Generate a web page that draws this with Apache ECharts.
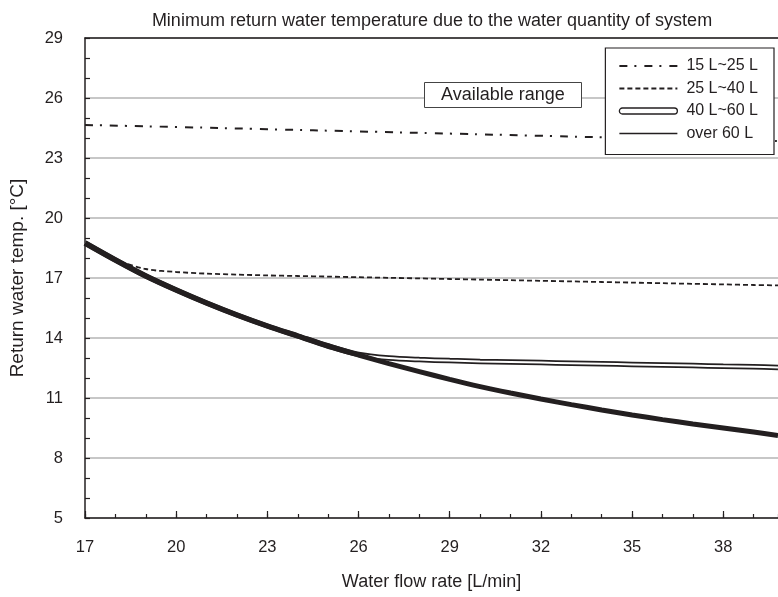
<!DOCTYPE html>
<html>
<head>
<meta charset="utf-8">
<script src="https://cdn.jsdelivr.net/npm/echarts@6/dist/echarts.min.js"></script>
<style>
html,body{margin:0;padding:0;background:#fff;}
#chart{width:778px;height:597px;}
</style>
</head>
<body>
<div id="chart"></div>
<script>
// ---- data ----
const flow = [17, 18, 19, 20, 21, 22, 23, 24, 25, 26, 27, 28, 29, 30, 31, 32, 33, 34, 35, 36, 37, 38, 39, 39.8];
const over60 = [18.75, 17.9, 17.1, 16.4, 15.75, 15.15, 14.6, 14.1, 13.6, 13.15, 12.72, 12.32, 11.93, 11.57, 11.25, 10.95, 10.67, 10.4, 10.15, 9.92, 9.7, 9.5, 9.3, 9.13];
const l40to60 = [18.75, 17.9, 17.1, 16.4, 15.75, 15.15, 14.6, 14.1, 13.6, 13.18, 13.0, 12.92, 12.87, 12.83, 12.8, 12.77, 12.74, 12.71, 12.68, 12.65, 12.62, 12.59, 12.56, 12.53];
const l25to40 = [18.75, 17.92, 17.45, 17.3, 17.22, 17.17, 17.13, 17.1, 17.07, 17.04, 17.01, 16.98, 16.95, 16.92, 16.89, 16.86, 16.83, 16.8, 16.77, 16.74, 16.71, 16.68, 16.65, 16.63];
const flow15 = [17, 20, 23, 26, 29, 32, 35, 38, 39.8];
const l15to25 = [24.65, 24.55, 24.44, 24.33, 24.22, 24.11, 24.0, 23.9, 23.85];

const xTicks = [17, 20, 23, 26, 29, 32, 35, 38];
const yTicks = [5, 8, 11, 14, 17, 20, 23, 26, 29];
const seriesNames = ['15 L~25 L', '25 L~40 L', '40 L~60 L', 'over 60 L'];
const titleText = 'Minimum return water temperature due to the water quantity of system';
const xName = 'Water flow rate [L/min]';
const yName = 'Return water temp. [°C]';
const noteText = 'Available range';

const pairs = (xs, ys) => xs.map((x, i) => [x, ys[i]]);
const FONT = 'Liberation Sans, Arial, sans-serif';
const INK = '#231f20';
const NOSYM = {color: 'rgba(0,0,0,0)', borderWidth: 0};

const chart = echarts.init(document.getElementById('chart'), null, {renderer: 'canvas'});
const axisLineStyle = {color: INK, width: 1.5};

chart.setOption({
  animation: false,
  backgroundColor: '#fff',
  title: [
    {text: titleText, left: 432, top: 12, textAlign: 'center', padding: 0,
     textStyle: {fontFamily: FONT, fontSize: 18, fontWeight: 'normal', color: INK}},
    {text: noteText, left: 424, top: 82, padding: [4, 17], borderColor: '#444', borderWidth: 1,
     backgroundColor: '#fff',
     textStyle: {fontFamily: FONT, fontSize: 18, fontWeight: 'normal', color: INK}}
  ],
  legend: {
    orient: 'vertical', right: 4, top: 48,
    padding: [10, 16, 13, 13], itemGap: 6.5, itemWidth: 58, itemHeight: 6,
    borderColor: INK, borderWidth: 1.2, backgroundColor: '#fff',
    textStyle: {fontFamily: FONT, fontSize: 16, color: INK, padding: [0, 0, 0, 4]},
    data: [
      {name: seriesNames[0], itemStyle: NOSYM},
      {name: seriesNames[1], itemStyle: NOSYM},
      {name: seriesNames[2], icon: 'path://M3,0L55,0A3,3,0,0,1,55,6L3,6A3,3,0,0,1,3,0Z',
       itemStyle: {color: '#fff', borderColor: INK, borderWidth: 1.3}},
      {name: seriesNames[3], itemStyle: NOSYM, lineStyle: {width: 1.5}}
    ]
  },
  grid: {left: 85, right: 0, top: 38, bottom: 79, containLabel: false},
  xAxis: [
    {type: 'value', min: 17, max: 39.8, interval: 1, position: 'bottom',
     axisLine: {show: true, lineStyle: axisLineStyle},
     axisTick: {show: true, inside: true, length: 4, lineStyle: {color: INK, width: 1.2}},
     axisLabel: {show: false}, splitLine: {show: false}},
    {type: 'value', min: 17, max: 39.8, interval: 3, position: 'bottom',
     axisLine: {show: false},
     axisTick: {show: true, inside: true, length: 7, customValues: xTicks, lineStyle: {color: INK, width: 1.2}},
     axisLabel: {show: true, customValues: xTicks, margin: 21,
                 fontFamily: FONT, fontSize: 16.5, color: INK},
     splitLine: {show: false},
     name: xName, nameLocation: 'middle', nameGap: 55,
     nameTextStyle: {fontFamily: FONT, fontSize: 18, color: INK}},
    {type: 'value', min: 17, max: 39.8, position: 'top',
     axisLine: {show: true, lineStyle: axisLineStyle},
     axisTick: {show: false}, axisLabel: {show: false}, splitLine: {show: false}}
  ],
  yAxis: {
    type: 'value', min: 5, max: 29, interval: 3,
    axisLine: {show: true, lineStyle: axisLineStyle},
    axisTick: {show: true, inside: true, length: 5, lineStyle: {color: INK, width: 1.2}},
    minorTick: {show: true, splitNumber: 3, length: 5, lineStyle: {color: INK, width: 1.2}},
    axisLabel: {margin: 22, fontFamily: FONT, fontSize: 16.5, color: INK},
    splitLine: {show: true, lineStyle: {color: '#b4b4b4', width: 1.5}},
    name: yName, nameLocation: 'middle', nameGap: 58,
    nameTextStyle: {fontFamily: FONT, fontSize: 19, color: INK}
  },
  series: [
    {name: seriesNames[0], type: 'line', xAxisIndex: 0, data: pairs(flow15, l15to25), symbol: 'none', smooth: true,
     lineStyle: {color: INK, width: 2, type: [8, 7, 2, 8]}, itemStyle: {color: INK}, z: 2},
    {name: seriesNames[1], type: 'line', xAxisIndex: 0, data: pairs(flow, l25to40), symbol: 'none', smooth: 0.3,
     lineStyle: {color: INK, width: 1.8, type: [5, 3]}, itemStyle: {color: INK}, z: 3},
    {name: seriesNames[2], type: 'line', xAxisIndex: 0, data: pairs(flow, l40to60), symbol: 'none', smooth: 0.3,
     lineStyle: {color: INK, width: 5.5}, itemStyle: {color: INK}, z: 4},
    {name: seriesNames[2] + ' inner', type: 'line', xAxisIndex: 0, data: pairs(flow, l40to60), symbol: 'none', smooth: 0.3,
     lineStyle: {color: '#ffffff', width: 2}, itemStyle: {color: '#fff'}, z: 5},
    {name: seriesNames[3], type: 'line', xAxisIndex: 0, data: pairs(flow, over60), symbol: 'none', smooth: 0.3,
     lineStyle: {color: INK, width: 5}, itemStyle: {color: INK}, z: 6}
  ]
});
</script>
</body>
</html>
